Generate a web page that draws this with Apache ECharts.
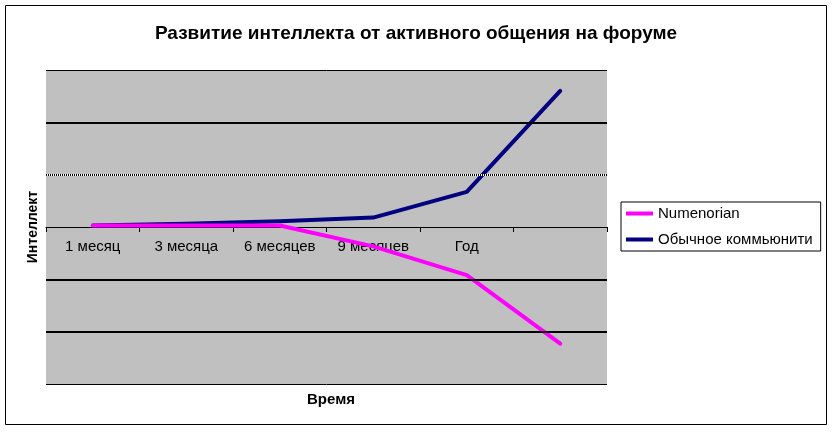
<!DOCTYPE html>
<html>
<head>
<meta charset="utf-8">
<script src="https://cdn.jsdelivr.net/npm/echarts@6/dist/echarts.min.js"></script>
<style>
  html, body { margin: 0; padding: 0; background: #ffffff; }
  #chart { width: 832px; height: 435px; }
</style>
</head>
<body>
<div id="chart"></div>
<script>
const titleText = 'Развитие интеллекта от активного общения на форуме';
const xName = 'Время';
const yName = 'Интеллект';
const categories = ['1 месяц', '3 месяца', '6 месяцев', '9 месяцев', 'Год', ''];
const seriesNames = ['Numenorian', 'Обычное коммьюнити'];
const numenorian = [0.03, 0.03, 0.03, -0.37, -0.92, -2.23];
const community = [0.03, 0.06, 0.11, 0.18, 0.67, 2.6];
const gridThick = [2, -1, -2];
const gridThin = [3, -3];
const gridDotted = [1];

const chart = echarts.init(document.getElementById('chart'), null, { renderer: 'canvas' });
const FONT = '"Liberation Sans", Arial, sans-serif';

const markData = [];
gridThin.forEach(v => markData.push({ yAxis: v, lineStyle: { color: '#000', width: 1, type: 'solid' } }));
gridThick.forEach(v => markData.push({ yAxis: v, lineStyle: { color: '#000', width: 2, type: 'solid' } }));
gridDotted.forEach(v => {
  markData.push({ yAxis: v, lineStyle: { color: '#fff', width: 2, type: 'solid' } });
  markData.push({ yAxis: v, lineStyle: { color: '#000', width: 2, type: [1, 1] } });
});

chart.setOption({
  animation: false,
  backgroundColor: '#ffffff',
  title: [
    { text: titleText, left: 'center', top: 19,
      textStyle: { fontFamily: FONT, fontSize: 19, fontWeight: 'bold', color: '#000' } },
    { text: xName, left: 326, top: 387, textAlign: 'center',
      textStyle: { fontFamily: FONT, fontSize: 15, fontWeight: 'bold', color: '#000' } }
  ],
  graphic: [
    { type: 'rect', shape: { x: 5.5, y: 5.5, width: 821, height: 419 },
      style: { fill: 'none', stroke: '#000', lineWidth: 1 }, z: -10 }
  ],
  legend: {
    data: seriesNames,
    orient: 'vertical',
    left: 621, top: 202,
    padding: [4, 8, 4, 5],
    itemGap: 11,
    itemWidth: 27, itemHeight: 4,
    icon: 'rect',
    borderColor: '#000', borderWidth: 1,
    backgroundColor: '#fff',
    textStyle: { fontFamily: FONT, fontSize: 15, color: '#000' }
  },
  grid: {
    left: 46, right: 225, top: 70, bottom: 51,
    show: true, backgroundColor: '#c0c0c0', borderWidth: 0
  },
  xAxis: [
    {
      type: 'category',
      data: categories,
      boundaryGap: true,
      axisLine: { onZero: true, lineStyle: { color: '#000', width: 1 } },
      axisTick: { show: true, length: 5, interval: 0, lineStyle: { color: '#000', width: 1 } },
      axisLabel: { show: false },
      splitLine: { show: false }
    },
    {
      type: 'category',
      data: categories,
      boundaryGap: true,
      position: 'bottom',
      offset: -157,
      axisLine: { show: false, onZero: false },
      axisTick: { show: false },
      axisLabel: { interval: 0, margin: 12, color: '#000', fontFamily: FONT, fontSize: 15 },
      splitLine: { show: false }
    }
  ],
  yAxis: {
    type: 'value',
    min: -3, max: 3, interval: 1,
    name: yName,
    nameLocation: 'middle',
    nameRotate: 90,
    nameGap: 6,
    nameTextStyle: { fontFamily: FONT, fontSize: 14, fontWeight: 'bold', color: '#000' },
    axisLine: { show: false },
    axisTick: { show: false },
    axisLabel: { show: false },
    splitLine: { show: false }
  },
  series: [
    {
      name: '__grid', type: 'line', data: [], z: 1, silent: true,
      markLine: { silent: true, symbol: 'none', label: { show: false }, animation: false, data: markData }
    },
    {
      name: seriesNames[1], type: 'line', data: community, z: 3,
      showSymbol: false, symbol: 'none',
      lineStyle: { color: '#000080', width: 4, join: 'round', cap: 'round' },
      itemStyle: { color: '#000080' }
    },
    {
      name: seriesNames[0], type: 'line', data: numenorian, z: 4,
      showSymbol: false, symbol: 'none',
      lineStyle: { color: '#ff00ff', width: 4, join: 'round', cap: 'round' },
      itemStyle: { color: '#ff00ff' }
    }
  ]
});
</script>
</body>
</html>
